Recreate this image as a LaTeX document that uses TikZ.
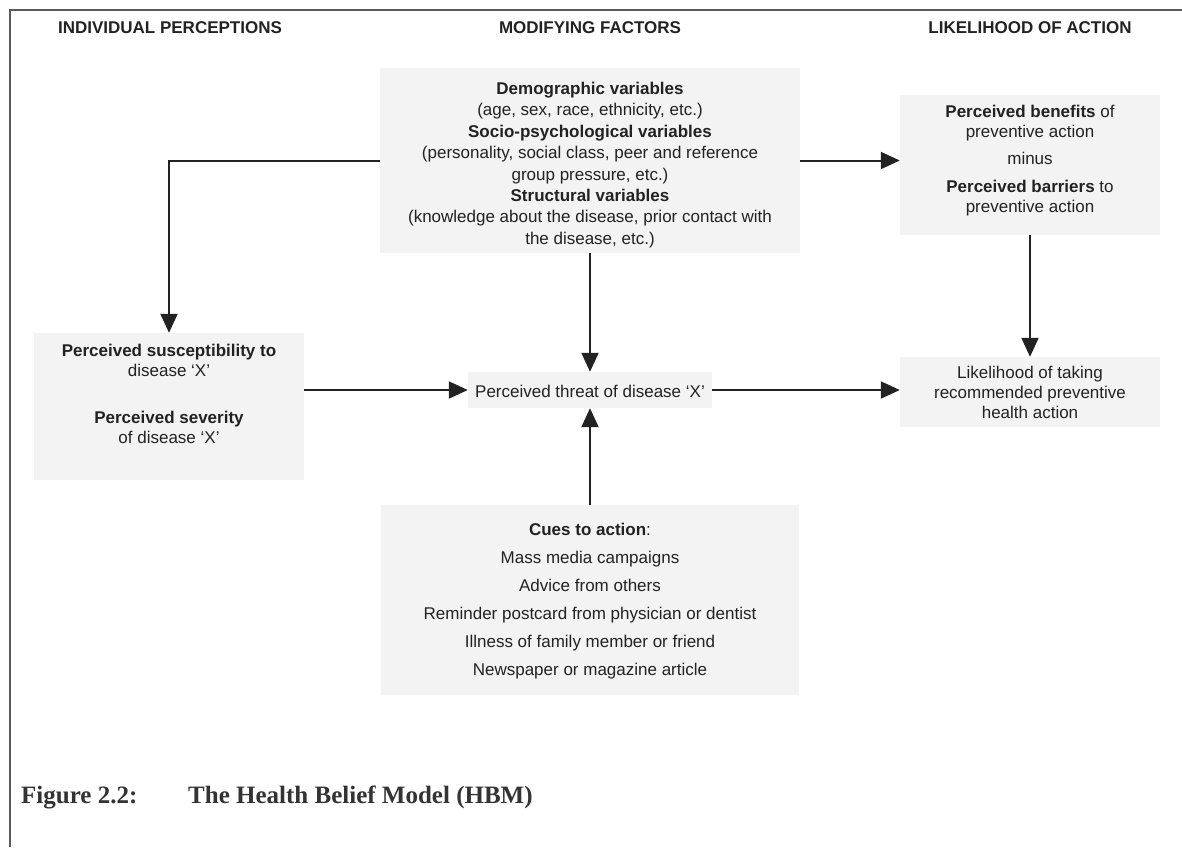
\documentclass[tikz,border=0pt]{standalone}
\usepackage{fontspec}
\setmainfont{Liberation Sans}
\newfontfamily\capfont{Liberation Serif}
\usetikzlibrary{arrows.meta}
\definecolor{ink}{HTML}{222222}
\definecolor{boxfill}{HTML}{F3F3F3}
\definecolor{framegray}{HTML}{5A5A5A}
\definecolor{capink}{HTML}{333333}
\tikzset{
  panel/.style={fill=boxfill, draw=none, inner sep=0pt},
  txt/.style={align=center, text=ink, inner sep=0pt, font=\fontsize{17}{21.4}\selectfont},
  head/.style={text=ink, inner sep=0pt, font=\fontsize{17}{20}\selectfont\bfseries},
  link/.style={draw=ink, line width=2pt, -{Triangle[length=19pt,width=17pt]}},
  captxt/.style={anchor=base west, text=capink, inner sep=0pt, font=\capfont\bfseries\fontsize{25}{30}\selectfont},
}
\begin{document}
\begin{tikzpicture}[x=1pt,y=-1pt]
\useasboundingbox (0,0) rectangle (1182,847);

% page frame (top and left rules)
\draw[framegray, line width=2pt] (1182,10) -- (10,10) -- (10,847);

% column headings
\node[head] (hIP) at (170,28) {INDIVIDUAL PERCEPTIONS};
\node[head] (hMF) at (590,28) {MODIFYING FACTORS};
\node[head] (hLA) at (1030,28) {LIKELIHOOD OF ACTION};

% shaded panels
\node[panel, minimum width=420pt, minimum height=185pt] (mod)    at (590,160.5) {};
\node[panel, minimum width=260pt, minimum height=140pt] (ben)    at (1030,165) {};
\node[panel, minimum width=270pt, minimum height=147pt] (sus)    at (169,406.5) {};
\node[panel, minimum width=244pt, minimum height=36pt]  (threat) at (590,390) {};
\node[panel, minimum width=260pt, minimum height=70pt]  (like)   at (1030,392) {};
\node[panel, minimum width=418pt, minimum height=190pt] (cues)   at (590,600) {};

% panel texts
\node[txt] (modtxt) at (590,165) {%
  \textbf{Demographic variables}\\
  (age, sex, race, ethnicity, etc.)\\
  \textbf{Socio-psychological variables}\\
  (personality, social class, peer and reference\\
  group pressure, etc.)\\
  \textbf{Structural variables}\\
  (knowledge about the disease, prior contact with\\
  the disease, etc.)};

\node[txt, font=\fontsize{17}{20}\selectfont] (bentxt) at (1030,160.5) {%
  \textbf{Perceived benefits} of\\
  preventive action\\[7pt]
  minus\\[8pt]
  \textbf{Perceived barriers} to\\
  preventive action};

\node[txt, font=\fontsize{17}{20}\selectfont] (sustxt) at (169,393.5) {%
  \textbf{Perceived susceptibility to}\\
  disease `X'\\[27pt]
  \textbf{Perceived severity}\\
  of disease `X'};

\node[txt] (threattxt) at (590,391) {Perceived threat of disease `X'};

\node[txt, font=\fontsize{17}{20}\selectfont] (liketxt) at (1030,392) {%
  Likelihood of taking\\
  recommended preventive\\
  health action};

\node[txt, font=\fontsize{17}{28}\selectfont] (cuestxt) at (590,601) {%
  \textbf{Cues to action}:\\
  Mass media campaigns\\
  Advice from others\\
  Reminder postcard from physician or dentist\\
  Illness of family member or friend\\
  Newspaper or magazine article};

% connectors
\draw[link] (mod.west) -| (sus.north);
\draw[link] (mod.east) -- (ben.west |- mod.east);
\draw[link] (mod.south) -- (threat.north);
\draw[link] (ben.south) -- (like.north);
\draw[link] (sus.east |- threat.west) -- (threat.west);
\draw[link] (threat.east) -- (like.west |- threat.east);
\draw[link] (cues.north) -- (threat.south);

% caption
\node[captxt] (capno)    at (21,803)  {Figure 2.2:};
\node[captxt] (captitle) at (188,803) {The Health Belief Model (HBM)};
\end{tikzpicture}
\end{document}
